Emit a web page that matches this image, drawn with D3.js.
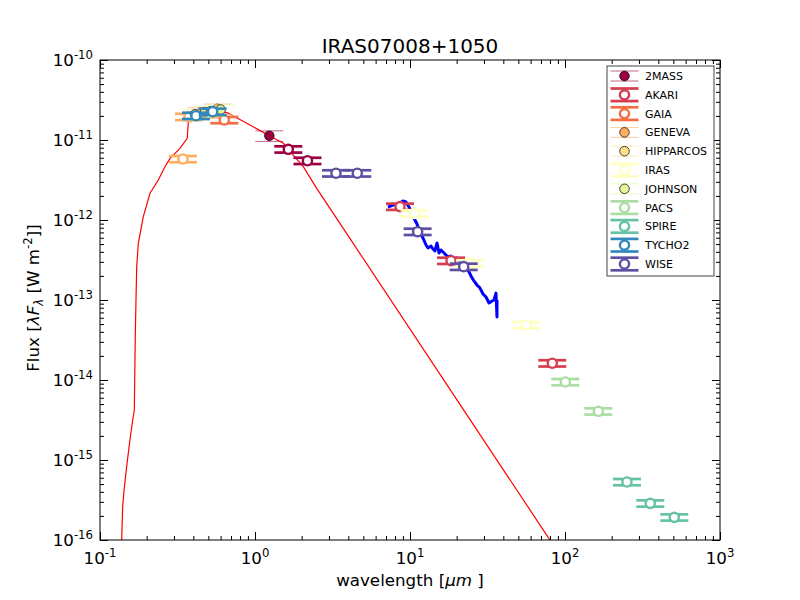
<!DOCTYPE html>
<html>
<head>
<meta charset="utf-8">
<script src="https://cdn.jsdelivr.net/npm/d3@7"></script>
<style>
  body { margin: 0; background: #fff; }
  svg { font-family: "DejaVu Sans", sans-serif; }
</style>
</head>
<body>
<div id="chart"></div>
<script>
// surveys, in legend order
const surveys = ["2MASS", "AKARI", "GAIA", "GENEVA", "HIPPARCOS", "IRAS", "JOHNSON", "PACS", "SPIRE", "TYCHO2", "WISE"];
const surveyColours = ["#9e0142", "#d53e4f", "#f46d43", "#fdae61", "#fee08b", "#ffffbf", "#e6f598", "#abdda4", "#66c2a5", "#3288bd", "#5e4fa2"];
const legendFilled = [true, false, false, true, true, false, true, false, false, false, false];

// photometry (wavelength in micron, flux in W m-2), open = has errors
const twoMassWave = [1.237, 1.64, 2.18];
const twoMassFlux = [1.13e-11, 7.65e-12, 5.5e-12];
const twoMassOpen = [false, true, true];
const akariWave = [8.62, 18.4, 82.8];
const akariFlux = [1.47e-12, 3.1e-13, 1.62e-14];
const gaiaWave = [0.634];
const gaiaFlux = [1.78e-11];
const genevaWave = [0.343, 0.375, 0.45, 0.57];
const genevaFlux = [5.79e-12, 1.95e-11, 2.2e-11, 2.45e-11];
const genevaOpen = [true, true, false, false];
const hipparcosWave = [0.476];
const hipparcosFlux = [2.24e-11];
const irasWave = [10.7, 24.4, 56.3];
const irasFlux = [1.21e-12, 2.88e-13, 4.87e-14];
const johnsonWave = [0.41, 0.52, 0.6];
const johnsonFlux = [2.1e-11, 2.3e-11, 2.4e-11];
const pacsWave = [100.5, 164];
const pacsFlux = [9.44e-15, 4.06e-15];
const spireWave = [251, 355, 507];
const spireFlux = [5.31e-16, 2.87e-16, 1.92e-16];
const tycho2Wave = [0.416, 0.533];
const tycho2Flux = [2.01e-11, 2.26e-11];
const wiseWave = [3.33, 4.57, 11.2, 22.2];
const wiseFlux = [3.84e-12, 3.84e-12, 7.14e-13, 2.61e-13];

// model SED (red)
const modelWave = [0.138, 0.140, 0.143, 0.1486, 0.156, 0.1626, 0.1665, 0.169, 0.1707, 0.1725, 0.1767, 0.1903, 0.2102, 0.2377,
  0.2624, 0.283, 0.328, 0.3656, 0.3713, 0.375, 0.4415, 0.528, 0.67, 0.928, 1.237, 1.523, 1.766, 2.05, 2.5, 100];
const modelFlux = [1e-16, 2.61e-16, 4.22e-16, 8.25e-16, 1.78e-15, 3.16e-15, 4.22e-15, 3.87e-14, 1e-13, 2.61e-13, 5.11e-13, 1.1e-12, 2.16e-12, 3.16e-12,
  4.64e-12, 5.9e-12, 7.87e-12, 1.05e-11, 1.69e-11, 2.17e-11, 2.44e-11, 2.51e-11, 2.17e-11, 1.54e-11, 1.13e-11, 9.1e-12, 6.49e-12, 4.64e-12, 2.49e-12, 5.2e-17];

// infrared spectrum (blue)
const specWave = [7.21, 7.77, 8.37, 9.01, 9.42, 9.85, 10.15, 10.6, 11.1, 11.6, 12.13, 12.69, 13.07, 13.66, 14.07, 14.5, 14.94, 15.39, 15.85,
  16.33, 17.07, 17.59, 18.39, 19.23, 20.1, 21.02, 21.98, 22.98, 23.67, 24.75, 25.87, 27.05, 28.29, 29.58, 30.93, 32.34, 33.81, 34.83, 35.87, 36.41, 36.41];
const specFlux = [1.45e-12, 1.54e-12, 1.585e-12, 1.73e-12, 1.68e-12, 1.45e-12, 1.30e-12, 1.06e-12, 8.91e-13, 6.88e-13, 5.96e-13, 4.87e-13, 4.47e-13,
  4.73e-13, 4.34e-13, 4.10e-13, 5.16e-13, 3.87e-13, 4.22e-13, 3.98e-13, 3.65e-13, 3.45e-13, 3.55e-13, 3.25e-13, 3.35e-13, 2.99e-13, 2.82e-13,
  2.59e-13, 2.37e-13, 2.0e-13, 1.73e-13, 1.54e-13, 1.41e-13, 1.19e-13, 1.09e-13, 9.17e-14, 9.72e-14, 1.0e-13, 1.22e-13, 6.13e-14, 1.0e-13];

const width = 800;
const height = 600;
const plotLeft = 100, plotRight = 720, plotTop = 60, plotBottom = 540;

const svg = d3.select("#chart")
              .append("svg")
              .attr("width", width)
              .attr("height", height);

const x = d3.scaleLog().domain([0.1, 1000]).range([plotLeft, plotRight]);
const y = d3.scaleLog().domain([1e-16, 1e-10]).range([plotBottom, plotTop]);

function zip(w, f, o){
  return w.map((d, i) => ({ w: d, f: f[i], open: o ? o[i] : true }));
}

const photometry = [
  zip(twoMassWave, twoMassFlux, twoMassOpen),
  zip(akariWave, akariFlux),
  zip(gaiaWave, gaiaFlux),
  zip(genevaWave, genevaFlux, genevaOpen),
  zip(hipparcosWave, hipparcosFlux, hipparcosWave.map(() => false)),
  zip(irasWave, irasFlux),
  zip(johnsonWave, johnsonFlux, johnsonWave.map(() => false)),
  zip(pacsWave, pacsFlux),
  zip(spireWave, spireFlux),
  zip(tycho2Wave, tycho2Flux),
  zip(wiseWave, wiseFlux)
];

// clip for the curves
svg.append("clipPath").attr("id", "plot-clip")
   .append("rect")
   .attr("x", plotLeft).attr("y", plotTop)
   .attr("width", plotRight - plotLeft).attr("height", plotBottom - plotTop);

const plot = svg.append("g").attr("clip-path", "url(#plot-clip)");

const line = d3.line().x(d => x(d[0])).y(d => y(d[1]));

plot.append("path")
    .attr("d", line(modelWave.map((d, i) => [d, modelFlux[i]])))
    .attr("fill", "none")
    .attr("stroke", "#ff0000")
    .attr("stroke-width", 1.2);

plot.append("path")
    .attr("d", line(specWave.map((d, i) => [d, specFlux[i]])))
    .attr("fill", "none")
    .attr("stroke", "#0000ff")
    .attr("stroke-width", 3)
    .attr("stroke-linejoin", "round");

// one photometric point: errorbar caps + circle
function drawPoint(g, cx, cy, yUp, yDown, colour, open){
  const cap = 14;
  if(open){
    g.append("line").attr("x1", cx).attr("x2", cx).attr("y1", yUp).attr("y2", yDown)
     .attr("stroke", colour).attr("stroke-width", 2.7);
    [yUp, yDown].forEach(yy => {
      g.append("line").attr("x1", cx - cap).attr("x2", cx + cap).attr("y1", yy).attr("y2", yy)
       .attr("stroke", colour).attr("stroke-width", 2.7);
    });
    g.append("circle").attr("cx", cx).attr("cy", cy).attr("r", 4.6)
     .attr("fill", "#fff").attr("stroke", colour).attr("stroke-width", 2.4);
  }
  else{
    g.append("line").attr("x1", cx).attr("x2", cx).attr("y1", yUp).attr("y2", yDown)
     .attr("stroke", colour).attr("stroke-width", 1).attr("opacity", 0.6);
    [yUp, yDown].forEach(yy => {
      g.append("line").attr("x1", cx - cap).attr("x2", cx + cap).attr("y1", yy).attr("y2", yy)
       .attr("stroke", colour).attr("stroke-width", 1).attr("opacity", 0.6);
    });
    g.append("circle").attr("cx", cx).attr("cy", cy).attr("r", 4.8)
     .attr("fill", colour).attr("stroke", "#000").attr("stroke-width", 0.7);
  }
}

const points = svg.append("g");
photometry.forEach((pts, s) => {
  pts.forEach(p => {
    const err = p.open ? 0.09 : 0.15;
    drawPoint(points, x(p.w), y(p.f), y(p.f * (1 + err)), y(p.f * (1 - err)), surveyColours[s], p.open);
  });
});

// axes
const majorX = [0.1, 1, 10, 100, 1000];
const majorY = [1e-16, 1e-15, 1e-14, 1e-13, 1e-12, 1e-11, 1e-10];
function minorTicks(lo, hi){
  const out = [];
  for(let e = lo; e < hi; e++){
    for(let k = 2; k < 10; k++) out.push(k * Math.pow(10, e));
  }
  return out;
}
const minorX = minorTicks(-1, 3);
const minorY = minorTicks(-16, -10);

function addAxis(axis, ticks, size, transform){
  svg.append("g")
     .attr("transform", transform)
     .call(axis.tickValues(ticks).tickSize(size).tickSizeOuter(0).tickFormat(""))
     .call(g => g.select(".domain").remove())
     .call(g => g.selectAll(".tick line").attr("stroke", "#000"));
}
addAxis(d3.axisBottom(x), majorX, -8, `translate(0,${plotBottom})`);
addAxis(d3.axisBottom(x), minorX, -4, `translate(0,${plotBottom})`);
addAxis(d3.axisTop(x), majorX, -8, `translate(0,${plotTop})`);
addAxis(d3.axisTop(x), minorX, -4, `translate(0,${plotTop})`);
addAxis(d3.axisLeft(y), majorY, -8, `translate(${plotLeft},0)`);
addAxis(d3.axisLeft(y), minorY, -4, `translate(${plotLeft},0)`);
addAxis(d3.axisRight(y), majorY, -8, `translate(${plotRight},0)`);
addAxis(d3.axisRight(y), minorY, -4, `translate(${plotRight},0)`);

svg.append("rect")
   .attr("x", plotLeft).attr("y", plotTop)
   .attr("width", plotRight - plotLeft).attr("height", plotBottom - plotTop)
   .attr("fill", "none").attr("stroke", "#000").attr("stroke-width", 1);

// tick labels 10^n
function expText(d){
  const e = Math.round(Math.log10(d));
  return e < 0 ? "-" + (-e) : String(e);
}

const xLabels = svg.append("g")
   .selectAll("text")
   .data(majorX)
   .enter()
   .append("text")
   .attr("x", d => x(d))
   .attr("y", 564)
   .attr("text-anchor", "middle")
   .attr("font-size", 16.7);
xLabels.append("tspan").text("10");
xLabels.append("tspan").attr("dy", -7).attr("font-size", 11.7).text(expText);

const yLabels = svg.append("g")
   .selectAll("text")
   .data(majorY)
   .enter()
   .append("text")
   .attr("x", 93)
   .attr("y", d => y(d) + 6)
   .attr("text-anchor", "end")
   .attr("font-size", 16.7);
yLabels.append("tspan").text("10");
yLabels.append("tspan").attr("dy", -7).attr("font-size", 11.7).text(expText);

// title and axis labels
svg.append("text")
   .attr("x", 410).attr("y", 53)
   .attr("text-anchor", "middle")
   .attr("font-size", 20)
   .text("IRAS07008+1050");

const xt = svg.append("text")
   .attr("x", 410).attr("y", 586)
   .attr("text-anchor", "middle")
   .attr("font-size", 16.7);
xt.append("tspan").text("wavelength [");
xt.append("tspan").attr("font-style", "italic").text("\u03bcm");
xt.append("tspan").text(" ]");

const yt = svg.append("text")
   .attr("transform", "translate(39,298) rotate(-90)")
   .attr("text-anchor", "middle")
   .attr("font-size", 16.7);
yt.append("tspan").text("Flux [");
yt.append("tspan").attr("font-style", "italic").text("\u03bbF");
yt.append("tspan").attr("font-style", "italic").attr("font-size", 11.7).attr("dy", 4).text("\u03bb");
yt.append("tspan").attr("dy", -4).text(" [W  m");
yt.append("tspan").attr("font-size", 11.7).attr("dy", -7).text("-2");
yt.append("tspan").attr("dy", 7).text("]]");

// legend
const legend = svg.append("g");
legend.append("rect")
      .attr("x", 607).attr("y", 66)
      .attr("width", 107).attr("height", 210)
      .attr("fill", "#fff").attr("stroke", "#444").attr("stroke-width", 1);

const entries = legend.selectAll(".entry")
      .data(surveys)
      .enter()
      .append("g")
      .attr("class", "entry")
      .attr("transform", (d, i) => `translate(0, ${76 + i * 18.8})`);

entries.each(function(d, i){
  const g = d3.select(this);
  if(legendFilled[i]){
    drawPoint(g, 624.5, 0, -5, 5, surveyColours[i], false);
  }
  else{
    drawPoint(g, 624.5, 0, -6.3, 6.3, surveyColours[i], true);
  }
});

entries.append("text")
       .attr("x", 645)
       .attr("y", 4)
       .attr("font-size", 11)
       .text(d => d);
</script>
</body>
</html>
